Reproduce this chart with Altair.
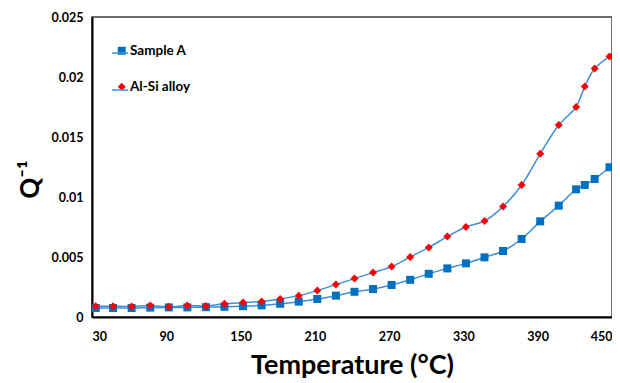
import altair as alt
import pandas as pd

temps = [33, 47, 62, 77, 92, 107, 122, 137, 152, 167, 182, 197, 212, 227, 242,
         257, 272, 287, 302, 317, 332, 347, 362, 377, 392, 407, 421, 428, 436, 448]
sample_a = [0.00075, 0.00075, 0.00075, 0.00078, 0.0008, 0.0008, 0.00082, 0.00085, 0.0009,
            0.00097, 0.0011, 0.00128, 0.0015, 0.00178, 0.0021, 0.00233, 0.00267, 0.0031,
            0.0036, 0.00405, 0.00447, 0.00497, 0.0055, 0.0065, 0.00797, 0.00928, 0.01064,
            0.011, 0.0115, 0.01248]
alsi = [0.0009, 0.0009, 0.00088, 0.00095, 0.00085, 0.00095, 0.00092, 0.0011, 0.0012,
        0.0013, 0.0015, 0.00178, 0.0022, 0.0027, 0.0032, 0.0037, 0.0042, 0.005,
        0.0058, 0.0067, 0.0075, 0.008, 0.0092, 0.011, 0.0136, 0.016, 0.0175,
        0.0192, 0.0207, 0.0217]
series_names = ["Sample A", "Al-Si alloy"]
x_ticks = [30, 90, 150, 210, 270, 330, 390, 450]
y_ticks = [0, 0.005, 0.01, 0.015, 0.02, 0.025]

rows = []
for name, vals in zip(series_names, [sample_a, alsi]):
    for t, v in zip(temps, vals):
        rows.append({"T": t, "Q": v, "series": name})
df = pd.DataFrame(rows)

FONT = "Lato"
LINE_BLUE = "#3E8ED8"

x = alt.X("T:Q", scale=alt.Scale(domain=[30, 450], nice=False, zero=False),
          axis=alt.Axis(values=x_ticks, title="Temperature (°C)", format="d"))
y = alt.Y("Q:Q", scale=alt.Scale(domain=[0, 0.025], nice=False),
          axis=alt.Axis(values=y_ticks, title="Q⁻¹", titleY=162,
                        labelExpr="format(datum.value, '~g')"))

lines = alt.Chart(df).mark_line(interpolate="catmull-rom", strokeWidth=1.5).encode(
    x=x, y=y,
    stroke=alt.Stroke("series:N",
                      scale=alt.Scale(domain=series_names, range=[LINE_BLUE, LINE_BLUE]),
                      legend=alt.Legend(title=None, orient="none", legendX=19, legendY=27,
                                        symbolType="stroke", symbolSize=256,
                                        symbolStrokeWidth=1.5, labelExpr="''",
                                        rowPadding=21, labelFontSize=13.5,
                                        labelFont=FONT)),
)

points = alt.Chart(df).mark_point(filled=True, size=64, opacity=1).encode(
    x=x, y=y,
    color=alt.Color("series:N",
                    scale=alt.Scale(domain=series_names, range=["#0070C0", "#FF0000"]),
                    legend=alt.Legend(title=None, orient="none", legendX=23, legendY=27,
                                      symbolSize=64, labelOffset=1.5, rowPadding=21,
                                      labelFontSize=13.5, labelFontWeight="bold",
                                      labelFont=FONT, labelColor="#000000",
                                      symbolOpacity=1)),
    shape=alt.Shape("series:N",
                    scale=alt.Scale(domain=series_names, range=["square", "diamond"])),
)

chart = alt.layer(lines, points).resolve_legend(stroke="independent").properties(
    width=520, height=300,
    autosize=alt.AutoSizeParams(type="none"),
    padding={"left": 84, "top": 9, "right": 0, "bottom": 66},
).configure_view(
    stroke="#404040", strokeWidth=1.5
).configure_axis(
    grid=False, ticks=False, domainColor="#000000", domainWidth=2,
    labelFont=FONT, labelFontWeight="bold", labelFontSize=12.5, labelColor="#000000",
    titleFont=FONT, titleFontWeight="bold", titleColor="#000000",
).configure_axisX(
    labelPadding=13, titleFontSize=27, titlePadding=10,
).configure_axisY(
    labelPadding=9, titleFontSize=26, titlePadding=8,
)

chart.save("out.html", embed_options={"renderer": "svg", "actions": False})
